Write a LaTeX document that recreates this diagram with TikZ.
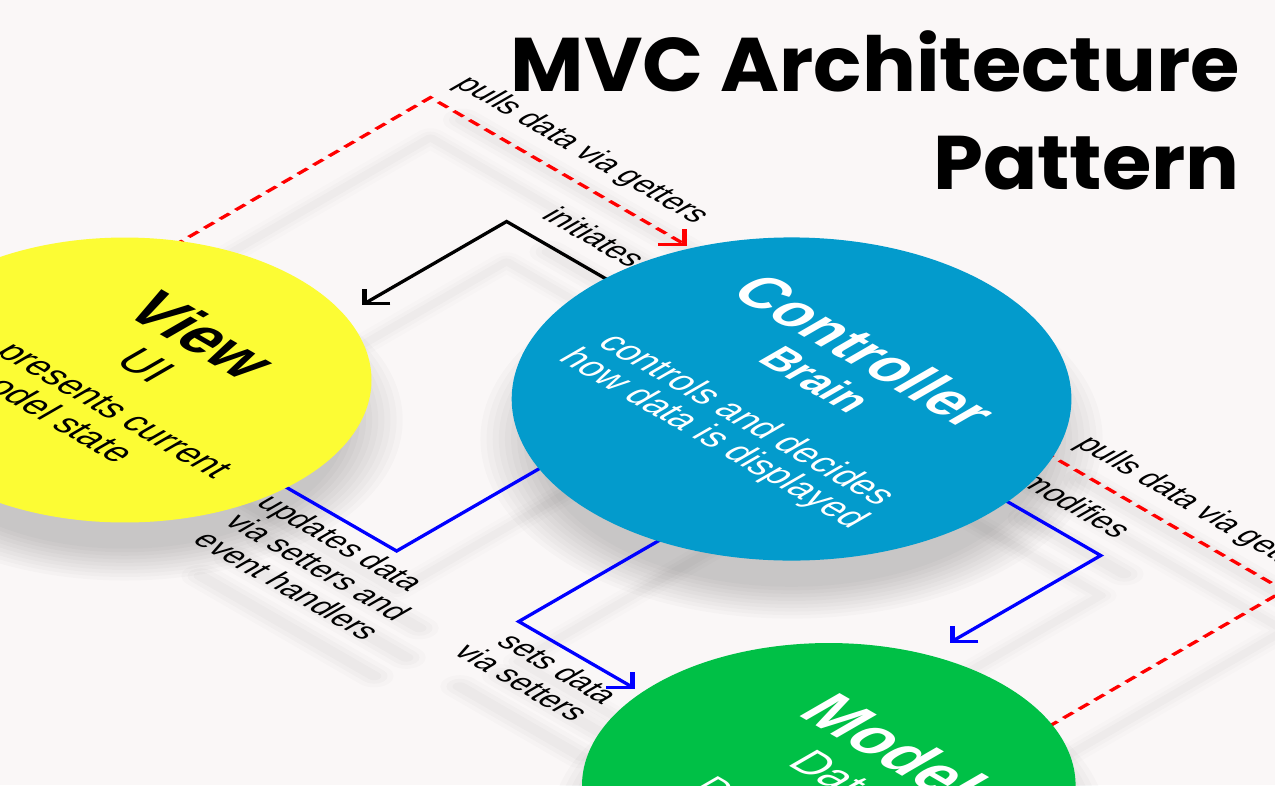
\documentclass[tikz,border=0pt]{standalone}
\usepackage{fontspec}
\setmainfont{Liberation Sans}[FakeStretch=0.92]
\newfontfamily\titlefont{Poppins}
\usetikzlibrary{arrows.meta,calc}
\definecolor{bgc}{RGB}{250,247,247}
\definecolor{viewc}{RGB}{252,252,52}
\definecolor{ctrlc}{RGB}{3,155,204}
\definecolor{modelc}{RGB}{0,192,70}
\definecolor{redc}{RGB}{255,0,0}
\definecolor{bluec}{RGB}{0,0,255}
\pgfdeclarelayer{bg}
\pgfdeclarelayer{shadow}
\pgfdeclarelayer{conn}
\pgfsetlayers{bg,shadow,conn,main}
\tikzset{
  iso/.style={transform canvas={cm={0.866025,-0.5,0.866025,0.5,(0,0)}}},
  dropiso/.style={transform canvas={cm={0.866025,-0.5,0.866025,0.5,(0,0)},shift={(40,-40)}}},
  ball/.style={circle, fill=#1, draw=none, inner sep=0pt},
  conn/.style={line width=3.8pt, line join=miter},
  tip/.style={-{Straight Barb[length=15pt,width=30pt]}},
  reddash/.style={conn, draw=redc, dash pattern=on 11pt off 7pt},
  blueline/.style={conn, draw=bluec},
  blackline/.style={conn, draw=black},
  lbl/.style={inner sep=0pt, font=\fontsize{33}{38}\selectfont, text=black},
  ttlv/.style={inner sep=0pt, anchor=base, font=\bfseries\fontsize{67}{74}\selectfont},
  ttlc/.style={inner sep=0pt, anchor=base, font=\bfseries\fontsize{62}{70}\selectfont},
  subv/.style={inner sep=0pt, anchor=base, font=\fontsize{47}{52}\selectfont},
  subc/.style={inner sep=0pt, anchor=base, font=\bfseries\fontsize{45.5}{52}\selectfont},
  bodyv/.style={inner sep=0pt, anchor=base west, font=\fontsize{38}{44}\selectfont},
  bodym/.style={inner sep=0pt, anchor=base, font=\fontsize{39}{44}\selectfont},
  bodyc/.style={inner sep=0pt, anchor=base, font=\fontsize{38.5}{44}\selectfont},
  shline/.style={draw=black, line cap=round, line join=round},
  bigtitle/.style={inner sep=0pt, anchor=base east, font=\titlefont\bfseries\fontsize{76}{90}\selectfont},
}
\newcommand\softline[1]{%
  \draw[shline, line width=26pt, opacity=0.012] #1;
  \draw[shline, line width=17pt, opacity=0.015] #1;
  \draw[shline, line width=9pt, opacity=0.018] #1;}
\newcommand\softtext[1]{%
  \draw[shline, line width=32pt, opacity=0.014] #1;
  \draw[shline, line width=22pt, opacity=0.018] #1;
  \draw[shline, line width=12pt, opacity=0.02] #1;}
\begin{document}
\begin{tikzpicture}[x=1pt,y=1pt]
\path[use as bounding box] (0,-785) rectangle (1275,0);
\begin{pgfonlayer}{bg}
  \fill[bgc] (0,-785) rectangle (1275,0);
\end{pgfonlayer}

% title
\node[bigtitle] (t1) at (1240,-91) {\scalebox{1.053}[1]{MVC Architecture}};
\node[bigtitle] (t2) at (1240,-189) {\scalebox{1.053}[1]{Pattern}};

% circles and their texts (isometric plane)
\begin{scope}[iso]
  \node[ball=viewc,  minimum size=403pt] (view)  at (452,-308) {};
  \node[ball=ctrlc,  minimum size=457pt] (ctrl)  at (856,58) {};
  \node[ball=modelc, minimum size=403pt] (model) at (1264,-307) {};

  \node[ttlv] (tview)  at (452,-242) {View};
  \node[subv] (sview)  at (450,-297) {UI};
  \node[bodyv] (bview1) at (350,-356) {presents current};
  \node[bodyv] (bview2) at (350,-397) {model state};

  \node[ttlc, text=white] (tctrl)  at (851,127) {Controller};
  \node[subc, text=white] (sctrl)  at (851,76) {Brain};
  \node[bodyc, text=white] (bctrl1) at (851,0) {controls and decides};
  \node[bodyc, text=white] (bctrl2) at (851,-38) {how data is displayed};

  \node[ttlv, text=white] (tmodel)  at (1264,-255) {Model};
  \node[subv, text=white] (smodel)  at (1264,-310) {Data};
  \node[bodym, text=white] (bmodel1) at (1268,-389) {Data logic};

  \coordinate (r1) at (346,151);   \coordinate (r1e) at (642,151);
  \coordinate (k1) at (514,71);    \coordinate (k1e) at (514,-96);
  \coordinate (b3) at (780,-322);
  \coordinate (b4) at (921,-322);  \coordinate (b4e) at (1055,-322);
  \coordinate (b5) at (1191,80);   \coordinate (b5e) at (1191,-94);
  \coordinate (r6) at (1332,151);
\end{scope}

% connectors and labels
\begin{pgfonlayer}{conn}
\begin{scope}[iso]
  \draw[reddash, tip] (r1 |- view.center) -- (r1) -- (r1e);
  \draw[blackline, tip] (ctrl.center |- k1) -- (k1) -- (k1e);
  \draw[blueline] (b3 -| view.center) -- (b3) -- (b3 |- ctrl.center);
  \draw[blueline, tip] (b4 |- ctrl.center) -- (b4) -- (b4e);
  \draw[blueline, tip] (ctrl.center |- b5) -- (b5) -- (b5e);
  \draw[reddash] (ctrl.center |- r6) -- (r6) -- (r6 |- model.center);

  \node[lbl, anchor=base west] (lpull1) at (347,177) {pulls data via getters};
  \node[lbl, anchor=base west] (linit) at (529,95) {initiates};
  \node[lbl, anchor=base west] (lpull2) at (1065,175) {pulls data via getters};
  \node[lbl, anchor=base east] (lmod) at (1183,105) {modifies};
  \node[lbl, anchor=base west] (lupd1) at (652,-357) {updates data};
  \node[lbl, anchor=base west] (lupd2) at (652,-394) {via setters and};
  \node[lbl, anchor=base west] (lupd3) at (652,-431) {event handlers};
  \node[lbl, anchor=base east] (lset1) at (1053,-357) {sets data};
  \node[lbl, anchor=base east] (lset2) at (1053,-392) {via setters};
\end{scope}
\end{pgfonlayer}

% soft drop shadows
\begin{pgfonlayer}{shadow}
\begin{scope}[dropiso]
  \foreach \k in {0,...,9} {
    \fill[black, opacity=0.02] (view.center)  circle[radius={(182+5*\k)*1pt}];
    \fill[black, opacity=0.02] (ctrl.center)  circle[radius={(209+5*\k)*1pt}];
    \fill[black, opacity=0.02] (model.center) circle[radius={(182+5*\k)*1pt}];
  }
  \softline{(r1 |- view.center) -- (r1) -- (r1e)}
  \softline{(ctrl.center |- k1) -- (k1) -- (k1e)}
  \softline{(b3 -| view.center) -- (b3) -- (b3 |- ctrl.center)}
  \softline{(b4 |- ctrl.center) -- (b4) -- (b4e)}
  \softline{(ctrl.center |- b5) -- (b5) -- (b5e)}
  \softline{(ctrl.center |- r6) -- (r6) -- (r6 |- model.center)}
  \softtext{(347,187) -- (624,187)}
  \softtext{(529,105) -- (634,105)}
  \softtext{(1065,185) -- (1342,185)}
  \softtext{(1071,115) -- (1183,115)}
  \softtext{(652,-346) -- (830,-346)}
  \softtext{(652,-383) -- (852,-383)}
  \softtext{(652,-420) -- (852,-420)}
  \softtext{(925,-346) -- (1053,-346)}
  \softtext{(912,-381) -- (1053,-381)}
\end{scope}
\end{pgfonlayer}
\end{tikzpicture}
\end{document}
